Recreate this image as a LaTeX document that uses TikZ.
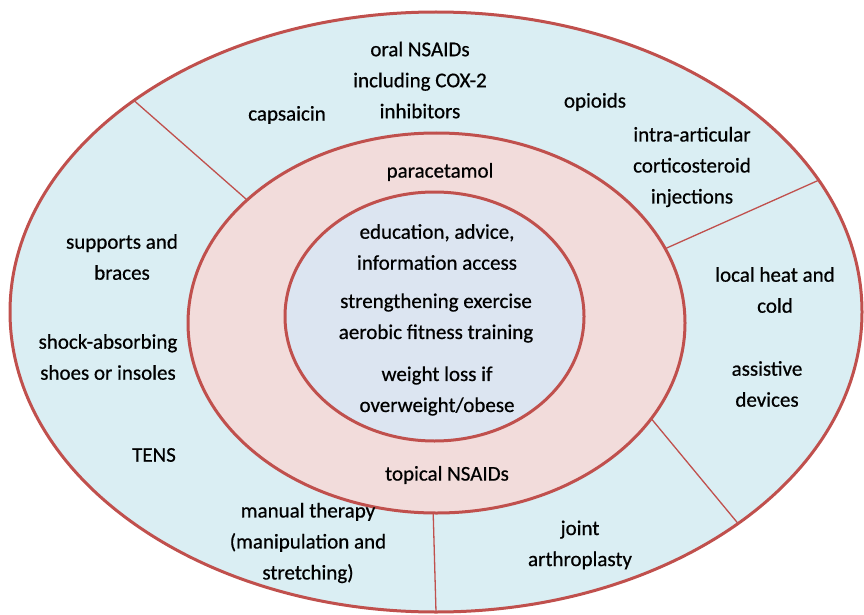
\documentclass[tikz,border=0pt]{standalone}
\usepackage{fontspec}
\setmainfont{Carlito}[FakeBold=0.6]
\usetikzlibrary{shapes.geometric}
\definecolor{ringred}{HTML}{C0504D}
\definecolor{outerblue}{HTML}{DAEEF3}
\definecolor{midpink}{HTML}{F2DCDB}
\definecolor{innerblue}{HTML}{DCE5F1}
\tikzset{
  ring/.style={ellipse,draw=ringred,line width=3pt,inner sep=0pt,outer sep=0pt},
  lbl/.style={align=center,inner sep=0pt,font=\fontsize{21}{31}\selectfont},
  divider/.style={ringred,line width=1.3pt}
}
\begin{document}
\begin{tikzpicture}[x=1pt,y=-1pt]
\useasboundingbox (0,0) rectangle (864,615);
\node[ring,fill=outerblue,minimum width=852pt,minimum height=600pt](outer) at (436,312) {};
\node[ring,fill=midpink,minimum width=497pt,minimum height=380pt](mid) at (436.5,323) {};
\node[ring,fill=innerblue,minimum width=299pt,minimum height=249pt](inner) at (434.5,316.5) {};

\draw[divider] (outer.145.6) -- (mid.147);
\draw[divider] (outer.19.2) -- (mid.18.2);
\draw[divider] (mid.-24.7) -- (outer.-35.3);
\draw[divider] (mid.-91) -- (outer.-90.6);

% centre
\node[lbl](edu) at (437,247) {education, advice,\\information access};
\node[lbl](exer) at (436,318) {strengthening exercise\\aerobic fitness training};
\node[lbl](wt) at (437,391) {weight loss if\\overweight/obese};
% middle ring
\node[lbl](para) at (440,172) {paracetamol};
\node[lbl](topic) at (447,475) {topical NSAIDs};
% outer ring
\node[lbl](oral) at (420,80) {oral NSAIDs\\including COX-2\\inhibitors};
\node[lbl](caps) at (287,115) {capsaicin};
\node[lbl](opi) at (595,102) {opioids};
\node[lbl](inj) at (692,167) {intra-articular\\corticosteroid\\injections};
\node[lbl](supp) at (122,257) {supports and\\braces};
\node[lbl](shoe) at (108,357) {shock-absorbing\\shoes or insoles};
\node[lbl](tens) at (154,455) {TENS};
\node[lbl](manual) at (308,543) {manual therapy\\(manipulation and\\stretching)};
\node[lbl](joint) at (580,545) {joint\\arthroplasty};
\node[lbl](heat) at (775,290) {local heat and\\cold};
\node[lbl](assist) at (767,384) {assistive\\devices};
\end{tikzpicture}
\end{document}
